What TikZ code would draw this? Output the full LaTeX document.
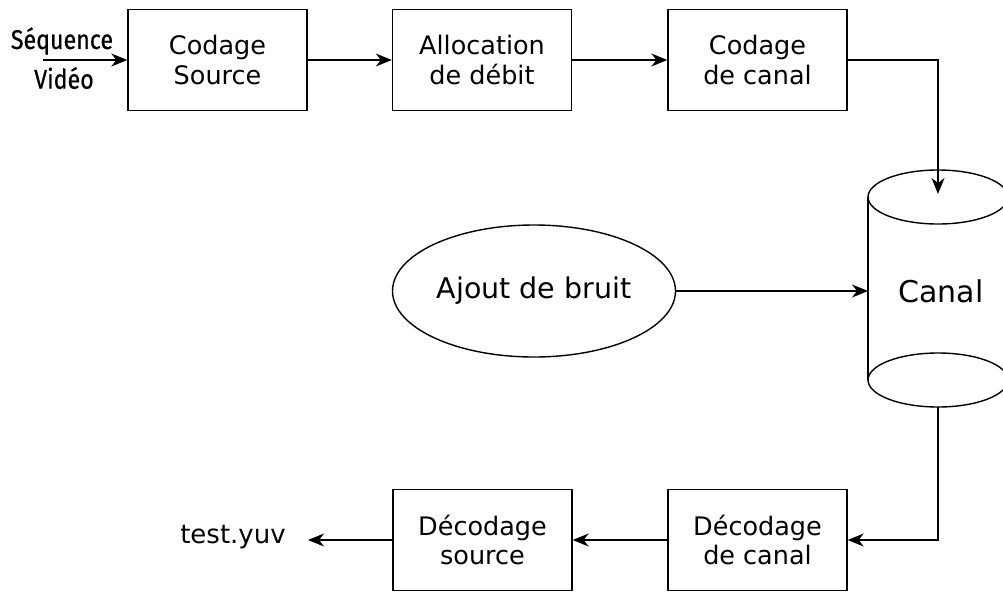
\documentclass[tikz,border=0pt]{standalone}
\usepackage{fontspec}
\setmainfont{DejaVu Sans}
\newfontfamily\condfont[FakeStretch=0.86,FakeBold=0.6]{Fira Sans}
\usetikzlibrary{arrows.meta,shapes.geometric}
\begin{document}
\begin{tikzpicture}[x=1pt,y=-1pt,
  line width=1.4pt,
  blockbox/.style={draw, rectangle, minimum width=179pt, minimum height=101pt,
    inner sep=0pt, align=center, font=\fontsize{25.5}{29.5}\selectfont},
  flow/.style={-{Stealth[length=16pt,width=13pt,inset=5pt]}},
  ]
\useasboundingbox (0,0) rectangle (1003,592);

% top chain
\node[blockbox] (cs) at (217.5,60) {Codage\\Source};
\node[blockbox] (al) at (482,60) {Allocation\\de débit};
\node[blockbox] (cc) at (757.5,60) {Codage\\de canal};

% input label
\node[font=\condfont\fontsize{27}{30}\selectfont, inner sep=0pt] (seq) at (62,41) {Séquence};
\node[font=\condfont\fontsize{27}{30}\selectfont, inner sep=0pt] (vid) at (64,78) {Vidéo};
\coordinate (in) at (43,60);

% channel cylinder
\begin{scope}
  \clip (0,0) rectangle (1003,592);
  \draw (938,197) ellipse [x radius=70pt, y radius=27pt];
  \draw (938,380) ellipse [x radius=70pt, y radius=27pt];
  \draw (868,197) -- (868,380);
  \draw (1008,197) -- (1008,380);
\end{scope}
\node[font=\fontsize{30}{34}\selectfont] (canal) at (941,291) {Canal};
\coordinate (cyltop) at (938,194);
\coordinate (cylleft) at (868,291);
\coordinate (cylbot) at (938,407);

% noise source
\node[draw, ellipse, minimum width=283pt, minimum height=132pt, inner sep=0pt,
  font=\fontsize{28.5}{32}\selectfont] (bruit) at (534,291) {Ajout de bruit};

% bottom chain
\node[blockbox] (dc) at (757.5,540) {Décodage\\de canal};
\node[blockbox] (ds) at (482.5,540) {Décodage\\source};
\node[font=\fontsize{26}{30}\selectfont, inner sep=0pt] (yuv) at (233,537) {test.yuv};
\coordinate (out) at (308,540);

% connectors
\draw[flow] (in) -- (cs.west);
\draw[flow] (cs.east) -- (al.west);
\draw[flow] (al.east) -- (cc.west);
\draw[flow] (cc.east) -| (cyltop);
\draw[flow] (bruit.east) -- (cylleft);
\draw[flow] (cylbot) |- (dc.east);
\draw[flow] (dc.west) -- (ds.east);
\draw[flow] (ds.west) -- (out);
\end{tikzpicture}
\end{document}
